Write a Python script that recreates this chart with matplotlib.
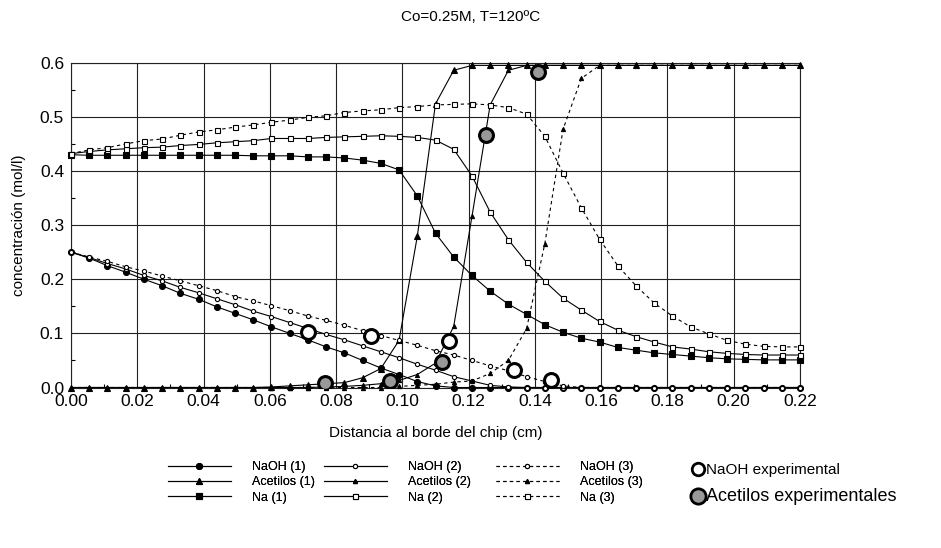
import numpy as np
import matplotlib
matplotlib.use("Agg")
import matplotlib.pyplot as plt
from matplotlib.lines import Line2D
from matplotlib.ticker import MultipleLocator, FormatStrFormatter

plt.rcParams['font.family'] = ['Liberation Sans', 'DejaVu Sans']

# Simulation grid (41 nodes across the chip)
x = np.linspace(0, 0.22, 41)

naoh1 = [0.250, 0.239, 0.225, 0.213, 0.200, 0.188, 0.174, 0.163, 0.149, 0.137,
         0.125, 0.112, 0.100, 0.088, 0.075, 0.064, 0.050, 0.036, 0.024, 0.011,
         0.003, 0.000, 0.000, 0.000, 0.000, 0.000, 0.000, 0.000, 0.000, 0.000,
         0.000, 0.000, 0.000, 0.000, 0.000, 0.000, 0.000, 0.000, 0.000, 0.000,
         0.000]
naoh2 = [0.250, 0.240, 0.229, 0.219, 0.207, 0.197, 0.185, 0.175, 0.164, 0.153,
         0.141, 0.131, 0.120, 0.109, 0.098, 0.088, 0.077, 0.066, 0.055, 0.043,
         0.032, 0.020, 0.012, 0.004, 0.001, 0.000, 0.000, 0.000, 0.000, 0.000,
         0.000, 0.000, 0.000, 0.000, 0.000, 0.000, 0.000, 0.000, 0.000, 0.000,
         0.000]
naoh3 = [0.250, 0.241, 0.233, 0.223, 0.215, 0.206, 0.197, 0.188, 0.179, 0.168,
         0.160, 0.151, 0.142, 0.132, 0.124, 0.115, 0.105, 0.096, 0.087, 0.078,
         0.068, 0.060, 0.050, 0.040, 0.031, 0.020, 0.011, 0.003, 0.000, 0.000,
         0.000, 0.000, 0.000, 0.000, 0.000, 0.000, 0.000, 0.000, 0.000, 0.000,
         0.000]

acet1 = [0.000, 0.000, 0.000, 0.000, 0.000, 0.000, 0.000, 0.000, 0.000, 0.000,
         0.000, 0.001, 0.003, 0.005, 0.007, 0.009, 0.018, 0.035, 0.087, 0.279,
         0.524, 0.586, 0.595, 0.595, 0.595, 0.595, 0.595, 0.595, 0.595, 0.595,
         0.595, 0.595, 0.595, 0.595, 0.595, 0.595, 0.595, 0.595, 0.595, 0.595,
         0.595]
acet2 = [0.000, 0.000, 0.000, 0.000, 0.000, 0.000, 0.000, 0.000, 0.000, 0.000,
         0.000, 0.000, 0.000, 0.000, 0.001, 0.002, 0.004, 0.007, 0.013, 0.024,
         0.045, 0.113, 0.316, 0.522, 0.586, 0.595, 0.595, 0.595, 0.595, 0.595,
         0.595, 0.595, 0.595, 0.595, 0.595, 0.595, 0.595, 0.595, 0.595, 0.595,
         0.595]
acet3 = [0.000, 0.000, 0.000, 0.000, 0.000, 0.000, 0.000, 0.000, 0.000, 0.000,
         0.000, 0.000, 0.000, 0.000, 0.000, 0.000, 0.000, 0.000, 0.002, 0.004,
         0.006, 0.010, 0.012, 0.026, 0.050, 0.109, 0.266, 0.477, 0.571, 0.595,
         0.595, 0.595, 0.595, 0.595, 0.595, 0.595, 0.595, 0.595, 0.595, 0.595,
         0.595]

na1 = [0.430, 0.429, 0.429, 0.429, 0.429, 0.429, 0.429, 0.429, 0.429, 0.429,
       0.428, 0.428, 0.428, 0.426, 0.426, 0.424, 0.420, 0.414, 0.402, 0.354,
       0.285, 0.241, 0.207, 0.178, 0.154, 0.135, 0.116, 0.102, 0.091, 0.084,
       0.074, 0.069, 0.064, 0.061, 0.058, 0.055, 0.053, 0.052, 0.051, 0.051,
       0.051]
na2 = [0.432, 0.436, 0.439, 0.441, 0.443, 0.444, 0.447, 0.449, 0.452, 0.454,
       0.456, 0.460, 0.460, 0.460, 0.462, 0.463, 0.464, 0.465, 0.464, 0.462,
       0.457, 0.440, 0.391, 0.324, 0.273, 0.231, 0.196, 0.165, 0.143, 0.122,
       0.106, 0.094, 0.084, 0.075, 0.071, 0.066, 0.063, 0.061, 0.060, 0.060,
       0.060]
na3 = [0.432, 0.439, 0.443, 0.450, 0.456, 0.459, 0.466, 0.472, 0.476, 0.481,
       0.485, 0.490, 0.494, 0.499, 0.502, 0.508, 0.511, 0.513, 0.517, 0.519,
       0.522, 0.523, 0.524, 0.522, 0.517, 0.505, 0.464, 0.396, 0.332, 0.274,
       0.225, 0.188, 0.156, 0.132, 0.112, 0.099, 0.087, 0.080, 0.076, 0.075,
       0.075]

# Experimental points
naoh_exp_x = [0.0714, 0.0904, 0.1141, 0.1336, 0.1450]
naoh_exp_y = [0.103, 0.095, 0.085, 0.032, 0.013]
acet_exp_x = [0.0766, 0.0962, 0.1121, 0.1252, 0.1410]
acet_exp_y = [0.008, 0.012, 0.047, 0.466, 0.582]

fig = plt.figure(figsize=(9.41, 5.48), dpi=100)
ax = fig.add_axes([71/941, 1-387.5/548, 729/941, 324.8/548])

lw = 0.8
dash = (0, (3, 3))
series = [
    (naoh1, '-', 'o', 'black', 4.3, 'NaOH (1)'),
    (acet1, '-', '^', 'black', 4.3, 'Acetilos (1)'),
    (na1, '-', 's', 'black', 4.3, 'Na (1)'),
    (naoh2, '-', 'o', 'white', 3.0, 'NaOH (2)'),
    (acet2, '-', '^', 'black', 3.0, 'Acetilos (2)'),
    (na2, '-', 's', 'white', 3.6, 'Na (2)'),
    (naoh3, dash, 'o', 'white', 3.0, 'NaOH (3)'),
    (acet3, dash, '^', 'black', 3.0, 'Acetilos (3)'),
    (na3, dash, 's', 'white', 3.6, 'Na (3)'),
]
handles = []
for y, ls, mk, fc, ms, lab in series:
    ax.plot(x, y, linestyle=ls, marker=mk, color='black', lw=lw,
            markerfacecolor=fc, markeredgecolor='black',
            markeredgewidth=0.8, markersize=ms, clip_on=False, zorder=3)
    handles.append(Line2D([0], [0], linestyle=ls, marker=mk, color='black',
                          lw=lw, markerfacecolor=fc, markeredgecolor='black',
                          markeredgewidth=0.8, markersize=ms))

ax.plot(naoh_exp_x, naoh_exp_y, 'o', markersize=10, markerfacecolor='white',
        markeredgecolor='black', markeredgewidth=2.2, zorder=4)
ax.plot(acet_exp_x, acet_exp_y, 'o', markersize=10, markerfacecolor='#999999',
        markeredgecolor='black', markeredgewidth=2.2, zorder=4)

ax.set_xlim(0, 0.22)
ax.set_ylim(0, 0.6)
ax.xaxis.set_major_locator(MultipleLocator(0.02))
ax.xaxis.set_minor_locator(MultipleLocator(0.01))
ax.yaxis.set_major_locator(MultipleLocator(0.1))
ax.yaxis.set_minor_locator(MultipleLocator(0.05))
ax.xaxis.set_major_formatter(FormatStrFormatter('%.2f'))
ax.yaxis.set_major_formatter(FormatStrFormatter('%.1f'))
ax.tick_params(which='major', length=0, labelsize=12.5, pad=5)
ax.tick_params(which='minor', direction='in', length=3, width=0.8)
ax.grid(True, which='major', color='#222222', linewidth=0.8)
ax.set_axisbelow(True)
for s in ax.spines.values():
    s.set_color('#222222')
    s.set_linewidth(0.8)

ax.set_xlabel('Distancia al borde del chip (cm)', fontsize=11, labelpad=12)
ax.set_ylabel('concentración (mol/l)', fontsize=11, labelpad=10)
fig.text(0.5, 1-17/548, 'Co=0.25M, T=120ºC', ha='center', va='center',
         fontsize=11)

# one legend per model column
col_x = [168, 324, 496]
for k, cx in enumerate(col_x):
    hs = handles[3*k:3*k+3]
    ls_ = [s[5] for s in series[3*k:3*k+3]]
    leg = fig.legend(hs, ls_, loc='upper left',
                     bbox_to_anchor=(cx/941, 1-461/548), frameon=False,
                     fontsize=9, handlelength=5.0, handletextpad=1.7,
                     labelspacing=0.27, borderpad=0, borderaxespad=0)
    fig.add_artist(leg)

exp_handles = [
    Line2D([0], [0], linestyle='', marker='o', markersize=9,
           markerfacecolor='white', markeredgecolor='black',
           markeredgewidth=2.0),
    Line2D([0], [0], linestyle='', marker='o', markersize=11,
           markerfacecolor='#999999', markeredgecolor='black',
           markeredgewidth=2.0),
]
leg2 = fig.legend(exp_handles, ['NaOH experimental', 'Acetilos experimentales'],
                  loc='upper left', bbox_to_anchor=(692/941, 1-463/548),
                  frameon=False, fontsize=11, handlelength=0.8,
                  handletextpad=0.1, labelspacing=0.75, borderpad=0,
                  borderaxespad=0)
leg2.get_texts()[1].set_fontsize(13)

fig.savefig('out.png', dpi=100)
